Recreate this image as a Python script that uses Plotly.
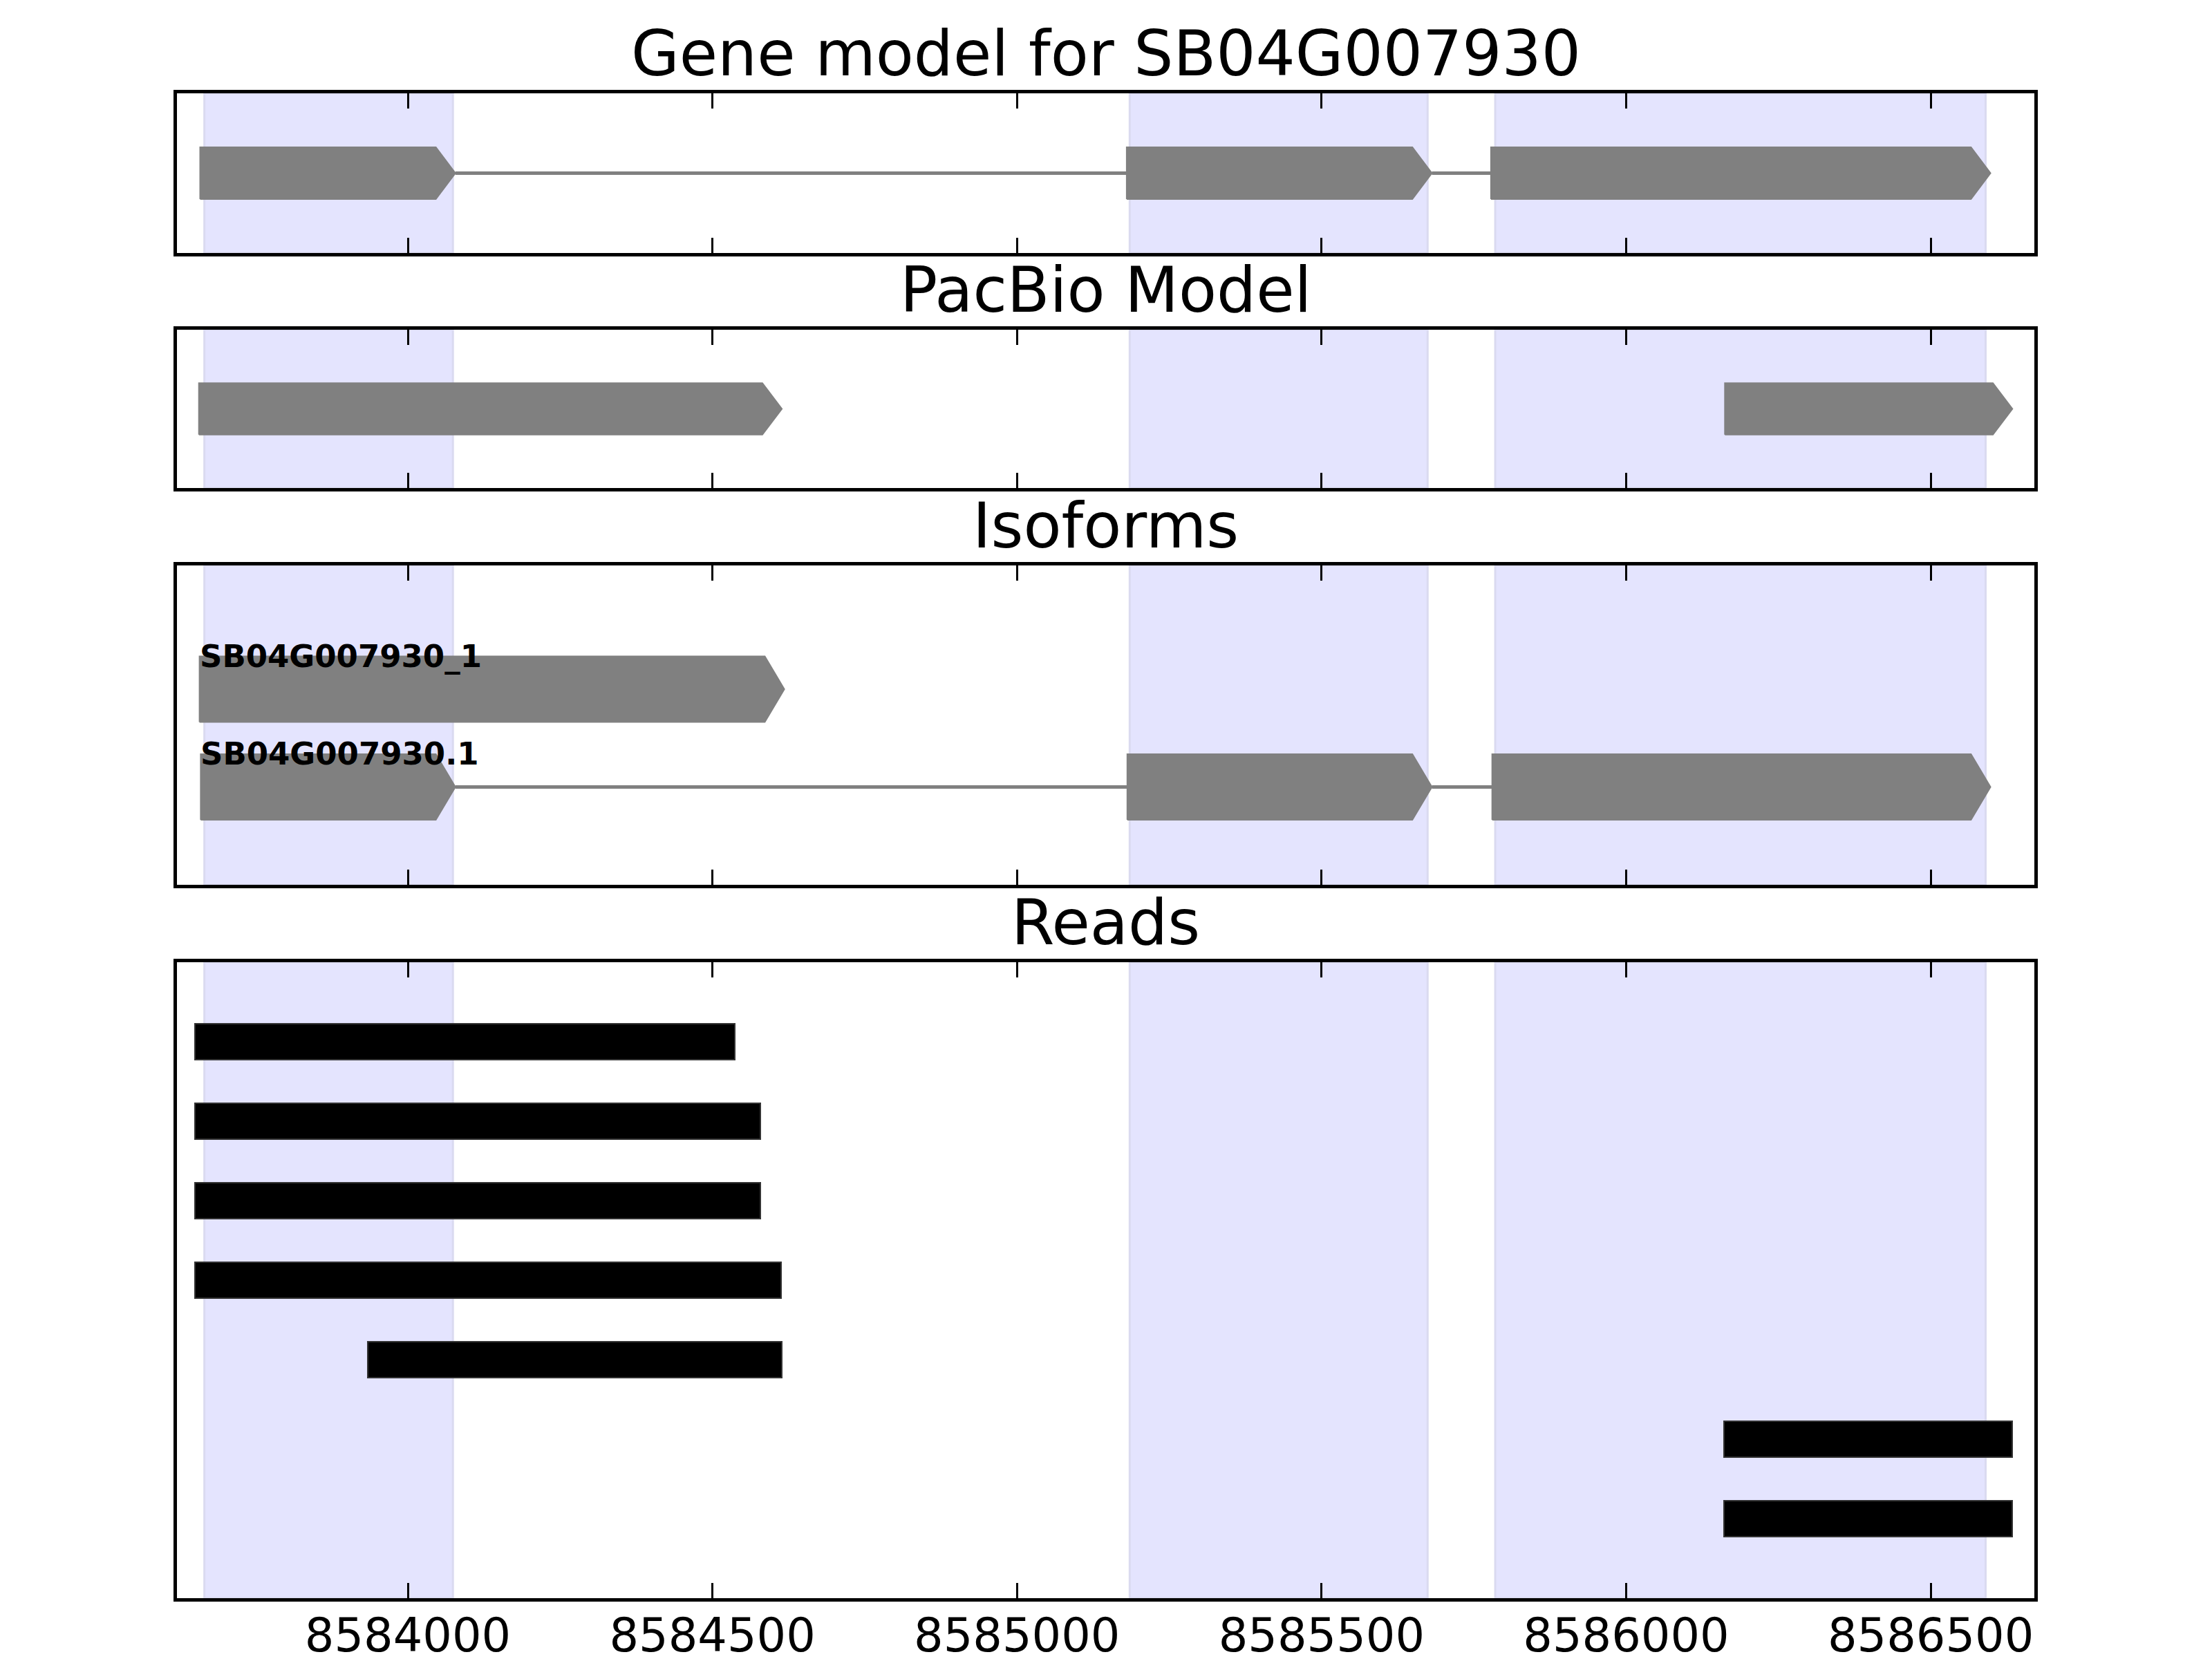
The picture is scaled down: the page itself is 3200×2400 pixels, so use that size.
import plotly.graph_objects as go

# ---------------- data ----------------
titles = ["Gene model for SB04G007930", "PacBio Model", "Isoforms", "Reads"]
x_range = [8583621, 8586670]
tick_values = [8584000, 8584500, 8585000, 8585500, 8586000, 8586500]
tick_labels = ["8584000", "8584500", "8585000", "8585500", "8586000", "8586500"]

# shaded exon regions (light blue background)
shade_starts = [8583666, 8585185, 8585785]
shade_ends = [8584074, 8585674, 8586590]

# gene model exons
gene_exon_starts = [8583659, 8585180, 8585778]
gene_exon_ends = [8584078, 8585681, 8586598]

# PacBio model blocks
pacbio_starts = [8583657, 8586162]
pacbio_ends = [8584614, 8586634]

# isoforms
isoform_names = ["SB04G007930_1", "SB04G007930.1"]
isoform_rows = [1, 0]
isoform_starts = [[8583658], [8583660, 8585181, 8585780]]
isoform_ends = [[8584618], [8584078, 8585681, 8586598]]

# reads (top to bottom)
read_rows = [1, 2, 3, 4, 5, 6, 7]
read_starts = [8583651, 8583651, 8583651, 8583651, 8583934, 8586160, 8586160]
read_ends = [8584537, 8584579, 8584579, 8584613, 8584614, 8586634, 8586634]

# ---------------- style ----------------
GRAY = "#808080"
SHADE = "rgb(228,228,254)"
SHADE_EDGE = "rgb(218,218,240)"
HEAD = 32          # arrow head length (data units)
FONT = "DejaVu Sans"

x_dom = [256 / 3200, 2943 / 3200]
y_doms = [
    [1 - 366 / 2400, 1 - 135 / 2400],
    [1 - 706 / 2400, 1 - 477 / 2400],
    [1 - 1280 / 2400, 1 - 818 / 2400],
    [1 - 2312 / 2400, 1 - 1392 / 2400],
]
y_ranges = [[-1, 1], [-1, 1], [-1.0, 2.265], [8, 0]]
half_heights = [0.325, 0.325, 0.336]

fig = go.Figure()


def arrow_poly(starts, ends, yc, hh):
    xs, ys = [], []
    for s, e in zip(starts, ends):
        b = max(s, e - HEAD)
        xs += [s, b, e, b, s, s, None]
        ys += [yc - hh, yc - hh, yc, yc + hh, yc + hh, yc - hh, None]
    return xs, ys


def introns(starts, ends, yc):
    xs, ys = [], []
    for i in range(len(starts) - 1):
        xs += [ends[i], starts[i + 1], None]
        ys += [yc, yc, None]
    return xs, ys


def add_blocks(starts, ends, yc, hh, ax):
    xi, yi = introns(starts, ends, yc)
    if xi:
        fig.add_trace(go.Scatter(x=xi, y=yi, mode="lines",
                                 line=dict(color=GRAY, width=5),
                                 xaxis="x" + ax, yaxis="y" + ax,
                                 showlegend=False, hoverinfo="skip"))
    xp, yp = arrow_poly(starts, ends, yc, hh)
    fig.add_trace(go.Scatter(x=xp, y=yp, mode="lines", fill="toself",
                             fillcolor=GRAY, line=dict(color=GRAY, width=2),
                             xaxis="x" + ax, yaxis="y" + ax,
                             showlegend=False, hoverinfo="skip"))


ax_ids = ["", "2", "3", "4"]

# panel 1: gene model
add_blocks(gene_exon_starts, gene_exon_ends, 0, half_heights[0], ax_ids[0])
# panel 2: pacbio model (separate unconnected blocks)
xp, yp = arrow_poly(pacbio_starts, pacbio_ends, 0, half_heights[1])
fig.add_trace(go.Scatter(x=xp, y=yp, mode="lines", fill="toself",
                         fillcolor=GRAY, line=dict(color=GRAY, width=2),
                         xaxis="x2", yaxis="y2", showlegend=False, hoverinfo="skip"))
# panel 3: isoforms
annotations = []
for name, row, st, en in zip(isoform_names, isoform_rows, isoform_starts, isoform_ends):
    add_blocks(st, en, row, half_heights[2], "3")
    annotations.append(dict(x=st[0], y=row + half_heights[2], xref="x3", yref="y3",
                            text="<b>" + name + "</b>", showarrow=False,
                            xanchor="left", yanchor="middle", xshift=-2,
                            font=dict(family=FONT, size=45, color="black")))
# panel 4: reads
fig.add_trace(go.Bar(y=read_rows, base=read_starts,
                     x=[e - s for s, e in zip(read_starts, read_ends)],
                     orientation="h", width=0.45,
                     marker=dict(color="black", line=dict(color="#333333", width=2)),
                     xaxis="x4", yaxis="y4", showlegend=False, hoverinfo="skip"))

# shaded regions on every panel
shapes = []
for ax in ax_ids:
    for s, e in zip(shade_starts, shade_ends):
        shapes.append(dict(type="rect", xref="x" + ax, yref="y" + ax + " domain",
                           x0=s, x1=e, y0=0, y1=1, fillcolor=SHADE,
                           line=dict(color=SHADE_EDGE, width=3), layer="below"))

# panel titles
for t, dom in zip(titles, y_doms):
    annotations.append(dict(x=(x_dom[0] + x_dom[1]) / 2, y=dom[1], xref="paper", yref="paper",
                            text=t, showarrow=False, xanchor="center", yanchor="bottom",
                            yshift=3, font=dict(family=FONT, size=90, color="black")))

layout = dict(width=3200, height=2400, margin=dict(l=0, r=0, t=0, b=0, autoexpand=False),
              paper_bgcolor="white", plot_bgcolor="white",
              shapes=shapes, annotations=annotations, bargap=0,
              font=dict(family=FONT, color="black"))
for i, ax in enumerate(ax_ids):
    xa = dict(domain=x_dom, range=x_range, anchor="y" + ax,
              tickvals=tick_values, ticktext=tick_labels,
              showticklabels=(i == 3), ticks="inside", ticklen=22, tickwidth=3,
              tickcolor="black", showline=True, linecolor="black", linewidth=5,
              mirror="ticks", showgrid=False, zeroline=False, automargin=False,
              tickfont=dict(family=FONT, size=67, color="black"),
              ticklabelstandoff=-8)
    ya = dict(domain=y_doms[i], range=y_ranges[i], anchor="x" + ax,
              showticklabels=False, ticks="", showline=True, linecolor="black",
              linewidth=5, mirror=True, showgrid=False, zeroline=False, automargin=False)
    layout["xaxis" + ax] = xa
    layout["yaxis" + ax] = ya

fig.update_layout(**layout)
fig.write_html("out.html", config={"displayModeBar": False},
               post_script="document.body.style.margin='0';document.body.style.padding='0';")
